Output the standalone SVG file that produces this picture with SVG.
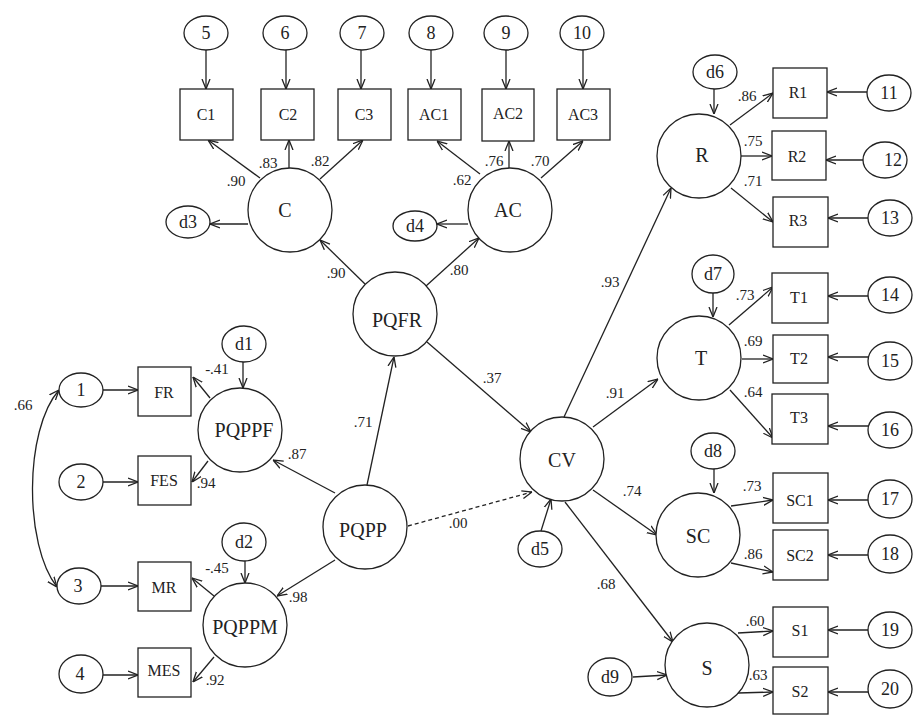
<svg xmlns="http://www.w3.org/2000/svg" width="917" height="716" viewBox="0 0 917 716">
<defs>
<marker id="ah" viewBox="0 0 10 10" refX="10" refY="5" markerUnits="userSpaceOnUse" markerWidth="10" markerHeight="10" orient="auto-start-reverse">
<path d="M0,1 L10,5 L0,9" fill="none" stroke="#222" stroke-width="1.3"/>
</marker>
<style>
.n{fill:#fff;stroke:#222;stroke-width:1.3}
.c{fill:none;stroke:#222;stroke-width:1.3;marker-end:url(#ah)}
.d{stroke-dasharray:4 3}
.b{marker-start:url(#ah)}
text{font-family:"Liberation Serif","Times New Roman",serif;fill:#222;text-anchor:middle}
.lv{font-size:20px}
.ob{font-size:16px}
.er{font-size:18px}
.cf{font-size:15px}
</style>
</defs>
<rect width="917" height="716" fill="#fff"/>

<g id="connectors">
<path class="c" d="M206,50 V89"/>
<path class="c" d="M286,50 V89"/>
<path class="c" d="M361,50 V89"/>
<path class="c" d="M431,50 V89"/>
<path class="c" d="M506,50 V89"/>
<path class="c" d="M583,50 V89"/>
<path class="c" d="M260,178 L208,140"/>
<path class="c" d="M289,168 L289,140"/>
<path class="c" d="M320,179 L363,140"/>
<path class="c" d="M248,224 L210,224"/>
<path class="c" d="M480,174 L437,141"/>
<path class="c" d="M509,168 L509,141"/>
<path class="c" d="M541,178 L583,141"/>
<path class="c" d="M468,224 L437,224"/>
<path class="c" d="M365,284 L320,240"/>
<path class="c" d="M426,286 L479,238"/>
<path class="c" d="M427,342 L531,432"/>
<path class="c" d="M367,485 L394,357"/>
<path class="c" d="M335,493 L273,460"/>
<path class="c" d="M335,560 L277,596"/>
<path class="c d" d="M408,526 L532,492"/>
<path class="c" d="M243,362 L243,388"/>
<path class="c" d="M245,561 L245,583"/>
<path class="c" d="M210,398 L193,377"/>
<path class="c" d="M208,461 L192,482"/>
<path class="c" d="M214,596 L192,578"/>
<path class="c" d="M214,657 L193,682"/>
<path class="c" d="M103,390 L138,390"/>
<path class="c" d="M103,482 L138,482"/>
<path class="c" d="M101,586 L138,586"/>
<path class="c" d="M103,675 L138,675"/>
<path class="c b" d="M59,390 C24,430 24,545 57,587"/>
<path class="c" d="M541,531 L551,499"/>
<path class="c" d="M564,417 L671,188"/>
<path class="c" d="M593,427 L658,379"/>
<path class="c" d="M593,490 L657,535"/>
<path class="c" d="M565,502 L673,642"/>
<path class="c" d="M714,89 L714,114"/>
<path class="c" d="M730,125 L773,93"/>
<path class="c" d="M741,156 L772,156"/>
<path class="c" d="M731,188 L773,222"/>
<path class="c" d="M867,92 L827,92"/>
<path class="c" d="M863,160 L826,160"/>
<path class="c" d="M868,218 L828,218"/>
<path class="c" d="M713,293 L713,317"/>
<path class="c" d="M729,325 L773,287"/>
<path class="c" d="M742,359 L773,359"/>
<path class="c" d="M730,390 L773,438"/>
<path class="c" d="M868,296 L828,296"/>
<path class="c" d="M868,357 L828,357"/>
<path class="c" d="M868,426 L828,426"/>
<path class="c" d="M714,469 L714,493"/>
<path class="c" d="M731,506 L773,500"/>
<path class="c" d="M731,563 L773,572"/>
<path class="c" d="M868,500 L828,500"/>
<path class="c" d="M868,555 L828,555"/>
<path class="c" d="M633,677 L667,675"/>
<path class="c" d="M738,633 L773,631"/>
<path class="c" d="M738,693 L773,692"/>
<path class="c" d="M868,630 L828,630"/>
<path class="c" d="M868,692 L828,692"/>
<g id="coefficients" class="cf">
<text x="236" y="186">.90</text>
<text x="268" y="168">.83</text>
<text x="320" y="166">.82</text>
<text x="462" y="185">.62</text>
<text x="494" y="166">.76</text>
<text x="540" y="166">.70</text>
<text x="336" y="278">.90</text>
<text x="459" y="275">.80</text>
<text x="492" y="383">.37</text>
<text x="363" y="427">.71</text>
<text x="458" y="528">.00</text>
<text x="217" y="374">-.41</text>
<text x="297" y="459">.87</text>
<text x="206" y="488">.94</text>
<text x="217" y="573">-.45</text>
<text x="298" y="602">.98</text>
<text x="215" y="685">.92</text>
<text x="23" y="410">.66</text>
<text x="747" y="101">.86</text>
<text x="753" y="146">.75</text>
<text x="753" y="186">.71</text>
<text x="610" y="287">.93</text>
<text x="745" y="300">.73</text>
<text x="753" y="346">.69</text>
<text x="753" y="397">.64</text>
<text x="615" y="398">.91</text>
<text x="632" y="496">.74</text>
<text x="606" y="589">.68</text>
<text x="752" y="491">.73</text>
<text x="753" y="559">.86</text>
<text x="755" y="626">.60</text>
<text x="758" y="680">.63</text>
</g>
</g>

<g id="e5"><ellipse class="n" cx="206" cy="33" rx="22" ry="17"/><text class="er" x="206" y="39">5</text></g>
<g id="e6"><ellipse class="n" cx="285" cy="33" rx="22" ry="17"/><text class="er" x="285" y="39">6</text></g>
<g id="e7"><ellipse class="n" cx="362" cy="33" rx="22" ry="17"/><text class="er" x="362" y="39">7</text></g>
<g id="e8"><ellipse class="n" cx="431" cy="33" rx="22" ry="17"/><text class="er" x="431" y="39">8</text></g>
<g id="e9"><ellipse class="n" cx="506" cy="33" rx="22" ry="17"/><text class="er" x="506" y="39">9</text></g>
<g id="e10"><ellipse class="n" cx="582" cy="33" rx="22" ry="17"/><text class="er" x="582" y="39">10</text></g>

<g id="C1"><rect class="n" x="180" y="89" width="53" height="51"/><text class="ob" x="206" y="120">C1</text></g>
<g id="C2"><rect class="n" x="261" y="89" width="53" height="51"/><text class="ob" x="288" y="120">C2</text></g>
<g id="C3"><rect class="n" x="338" y="89" width="53" height="51"/><text class="ob" x="364" y="120">C3</text></g>
<g id="AC1"><rect class="n" x="408" y="89" width="53" height="51"/><text class="ob" x="434" y="120">AC1</text></g>
<g id="AC2"><rect class="n" x="482" y="89" width="52" height="52"/><text class="ob" x="508" y="119">AC2</text></g>
<g id="AC3"><rect class="n" x="557" y="89" width="53" height="51"/><text class="ob" x="583" y="120">AC3</text></g>

<g id="C"><circle class="n" cx="290" cy="210" r="42"/><text class="lv" x="285" y="217">C</text></g>
<g id="AC"><circle class="n" cx="510" cy="210" r="42"/><text class="lv" x="508" y="217">AC</text></g>
<g id="d3"><ellipse class="n" cx="188" cy="222" rx="22" ry="16"/><text class="er" x="188" y="228">d3</text></g>
<g id="d4"><ellipse class="n" cx="415" cy="226" rx="22" ry="15"/><text class="er" x="415" y="232">d4</text></g>

<g id="PQFR"><circle class="n" cx="395" cy="314" r="42"/><text class="lv" x="397" y="327">PQFR</text></g>
<g id="PQPP"><circle class="n" cx="365" cy="527" r="42"/><text class="lv" x="363" y="537">PQPP</text></g>
<g id="PQPPF"><circle class="n" cx="240" cy="430" r="42"/><text class="lv" x="244" y="437">PQPPF</text></g>
<g id="PQPPM"><circle class="n" cx="245" cy="625" r="42"/><text class="lv" x="245" y="634">PQPPM</text></g>
<g id="d1"><ellipse class="n" cx="244" cy="344" rx="22" ry="18"/><text class="er" x="244" y="350">d1</text></g>
<g id="d2"><ellipse class="n" cx="244" cy="542" rx="22" ry="19"/><text class="er" x="244" y="548">d2</text></g>

<g id="FR"><rect class="n" x="138" y="367" width="53" height="49"/><text class="ob" x="164" y="398">FR</text></g>
<g id="FES"><rect class="n" x="138" y="456" width="53" height="49"/><text class="ob" x="164" y="486">FES</text></g>
<g id="MR"><rect class="n" x="138" y="562" width="53" height="49"/><text class="ob" x="164" y="593">MR</text></g>
<g id="MES"><rect class="n" x="138" y="648" width="53" height="49"/><text class="ob" x="164" y="676">MES</text></g>

<g id="e1"><ellipse class="n" cx="81" cy="390" rx="22" ry="17"/><text class="er" x="81" y="396">1</text></g>
<g id="e2"><ellipse class="n" cx="81" cy="482" rx="22" ry="18"/><text class="er" x="81" y="488">2</text></g>
<g id="e3"><ellipse class="n" cx="79" cy="586" rx="22" ry="18"/><text class="er" x="78" y="592">3</text></g>
<g id="e4"><ellipse class="n" cx="81" cy="674" rx="22" ry="19"/><text class="er" x="80" y="680">4</text></g>

<g id="CV"><circle class="n" cx="562" cy="459" r="42"/><text class="lv" x="562" y="467">CV</text></g>
<g id="d5"><ellipse class="n" cx="540" cy="549" rx="22" ry="18"/><text class="er" x="540" y="555">d5</text></g>

<g id="R"><circle class="n" cx="699" cy="156" r="42"/><text class="lv" x="702" y="162">R</text></g>
<g id="d6"><ellipse class="n" cx="715" cy="72" rx="22" ry="17"/><text class="er" x="715" y="78">d6</text></g>
<g id="R1"><rect class="n" x="773" y="68" width="54" height="50"/><text class="ob" x="798" y="98">R1</text></g>
<g id="R2"><rect class="n" x="772" y="131" width="54" height="49"/><text class="ob" x="797" y="162">R2</text></g>
<g id="R3"><rect class="n" x="773" y="197" width="55" height="50"/><text class="ob" x="798" y="226">R3</text></g>
<g id="e11"><ellipse class="n" cx="889" cy="93" rx="22" ry="18"/><text class="er" x="889" y="99">11</text></g>
<g id="e12"><ellipse class="n" cx="885" cy="160" rx="22" ry="18"/><text class="er" x="893" y="166">12</text></g>
<g id="e13"><ellipse class="n" cx="890" cy="218" rx="22" ry="18"/><text class="er" x="890" y="224">13</text></g>

<g id="T"><circle class="n" cx="699" cy="358" r="42"/><text class="lv" x="701" y="365">T</text></g>
<g id="d7"><ellipse class="n" cx="713" cy="274" rx="21" ry="19"/><text class="er" x="713" y="280">d7</text></g>
<g id="T1"><rect class="n" x="772" y="273" width="56" height="50"/><text class="ob" x="799" y="303">T1</text></g>
<g id="T2"><rect class="n" x="773" y="335" width="55" height="48"/><text class="ob" x="799" y="364">T2</text></g>
<g id="T3"><rect class="n" x="772" y="394" width="56" height="50"/><text class="ob" x="799" y="423">T3</text></g>
<g id="e14"><ellipse class="n" cx="890" cy="295" rx="22" ry="18"/><text class="er" x="890" y="301">14</text></g>
<g id="e15"><ellipse class="n" cx="890" cy="361" rx="22" ry="19"/><text class="er" x="890" y="367">15</text></g>
<g id="e16"><ellipse class="n" cx="890" cy="430" rx="22" ry="18"/><text class="er" x="890" y="436">16</text></g>

<g id="SC"><circle class="n" cx="698" cy="535" r="42"/><text class="lv" x="698" y="543">SC</text></g>
<g id="d8"><ellipse class="n" cx="713" cy="451" rx="22" ry="18"/><text class="er" x="713" y="457">d8</text></g>
<g id="SC1"><rect class="n" x="773" y="473" width="55" height="50"/><text class="ob" x="800" y="506">SC1</text></g>
<g id="SC2"><rect class="n" x="773" y="530" width="55" height="50"/><text class="ob" x="800" y="561">SC2</text></g>
<g id="e17"><ellipse class="n" cx="890" cy="499" rx="22" ry="19"/><text class="er" x="890" y="505">17</text></g>
<g id="e18"><ellipse class="n" cx="890" cy="554" rx="22" ry="19"/><text class="er" x="890" y="560">18</text></g>

<g id="S"><circle class="n" cx="707" cy="665" r="42"/><text class="lv" x="707" y="675">S</text></g>
<g id="d9"><ellipse class="n" cx="610" cy="677" rx="22" ry="19"/><text class="er" x="610" y="683">d9</text></g>
<g id="S1"><rect class="n" x="773" y="607" width="55" height="50"/><text class="ob" x="800" y="636">S1</text></g>
<g id="S2"><rect class="n" x="773" y="667" width="55" height="47"/><text class="ob" x="800" y="697">S2</text></g>
<g id="e19"><ellipse class="n" cx="890" cy="630" rx="22" ry="18"/><text class="er" x="890" y="636">19</text></g>
<g id="e20"><ellipse class="n" cx="890" cy="689" rx="22" ry="19"/><text class="er" x="890" y="695">20</text></g>
</svg>
